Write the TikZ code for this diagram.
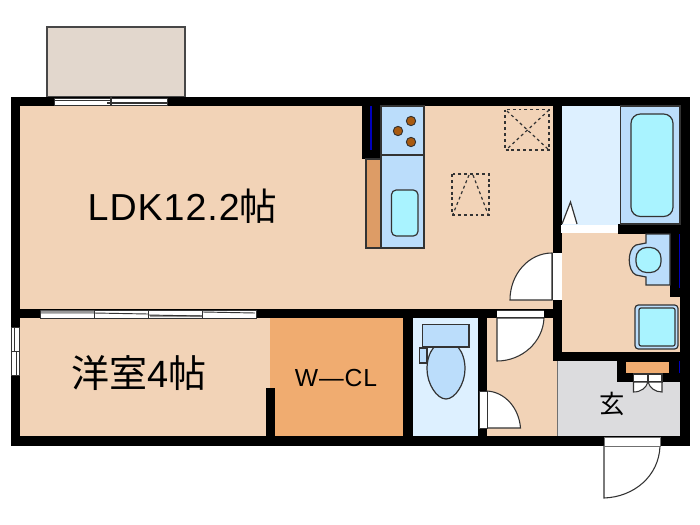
\documentclass[tikz,border=0pt]{standalone}
\usepackage{fontspec}
\setmainfont{Noto Sans CJK JP}
\newfontfamily\latinf[LetterSpace=2.5]{Liberation Sans}
\newfontfamily\latinw[LetterSpace=4]{Liberation Sans}
\definecolor{floorc}{HTML}{F2D3B7}
\definecolor{clos}{HTML}{F0AC70}
\definecolor{balc}{HTML}{E2D7CD}
\definecolor{lblue}{HTML}{DDF0FF}
\definecolor{mblue}{HTML}{BBDDFB}
\definecolor{cyanb}{HTML}{A9F3FF}
\definecolor{grayf}{HTML}{DCDCDE}
\definecolor{panel}{HTML}{DD9C66}
\definecolor{burner}{HTML}{A85A10}
\definecolor{linec}{HTML}{333333}
\tikzset{
 wallbox/.style={fill=black,draw=none},
 fixture/.style={draw=linec,line width=0.9pt},
 openbox/.style={fill=white,draw=linec,line width=0.5pt},
 doorleaf/.style={fill=white,draw=linec,line width=0.8pt},
 dashbox/.style={draw=linec,line width=0.9pt,dash pattern=on 2.2pt off 2.2pt},
 bluel/.style={draw={rgb,255:red,0;green,0;blue,190},line width=0.8pt},
 txt/.style={inner sep=0pt,text=black}
}
\begin{document}
\begin{tikzpicture}[x=0.75pt,y=-0.75pt]
\useasboundingbox (0,0) rectangle (700,525);
\fill[white] (0,0) rectangle (700,525);
% balcony
\draw[fill=balc,draw=linec!90!white,line width=1pt] (47,27) rectangle (185,97);
% floor
\fill[floorc] (15,100) rectangle (560,440);
\fill[floorc] (560,230) rectangle (685,356);
\fill[lblue] (561,106) rectangle (621,225);
\fill[clos] (270,317) rectangle (405,438);
\fill[lblue] (412,317) rectangle (479,438);
\fill[grayf] (557,360) rectangle (682,437);
\draw[linec!70!white,line width=0.5pt] (557,361) -- (557,436);
% walls
\fill[wallbox] (10.5,96.5) rectangle (689.5,106);
\fill[wallbox] (10.5,96.5) rectangle (20,446);
\fill[wallbox] (10.5,436) rectangle (689.5,446);
\fill[wallbox] (680,96.5) rectangle (689.5,446);
\fill[wallbox] (20,309) rectangle (553,318);
\fill[wallbox] (266,388) rectangle (275,436);
\fill[wallbox] (403,318) rectangle (413,436);
\fill[wallbox] (478,318) rectangle (487,436);
\fill[wallbox] (553,106) rectangle (562,361);
\fill[wallbox] (553,352) rectangle (680,361);
\fill[wallbox] (618,224) rectangle (680,233.5);
\fill[wallbox] (670,233) rectangle (680,297);
\fill[wallbox] (617,361) rectangle (680,382);
\fill[wallbox] (362,106) rectangle (381,159);
% windows
\draw[openbox] (54,98) rectangle (167,105);
\draw[linec,line width=1pt] (54,100.5) -- (111,100.5) (107,103) -- (167,103);
\draw[linec,line width=0.8pt] (111,97) -- (111,105);
\draw[openbox] (40,310) rectangle (256,318);
\fill[gray!80] (41,310.5) rectangle (94,313.5) (150,315) rectangle (202,317);
\draw[linec,line width=0.7pt] (94,313) -- (148,314) (148,315) -- (202,316) (203,312) -- (255,313);
\draw[linec,line width=0.7pt] (94,309.5) -- (94,318) (148,309.5) -- (148,318) (202,309.5) -- (202,318);
\draw[openbox] (11,327.5) rectangle (19,375);
\draw[linec,line width=0.6pt] (14.5,327.5) -- (14.5,351) (16.5,351) -- (16.5,375) (11,351) -- (19,351);
% kitchen
\draw[fixture,fill=mblue] (381,106) rectangle (424,155);
\draw[fixture,fill=mblue] (381,155) rectangle (424,248);
\draw[fixture,fill=panel] (366,159) rectangle (381,248);
\draw[fixture,rounded corners=3.5pt,fill=cyanb] (391.5,190) rectangle (418,236);
\draw[linec,fill=burner,line width=0.7pt] (411,121) circle[radius=3.5pt] (398,131) circle[radius=3.5pt] (411,142) circle[radius=3.5pt];
\draw[bluel] (371,106) -- (371,150);
% dashed squares
\draw[dashbox] (505,109.5) rectangle (549,150);
\draw[dashbox] (507,111) -- (549,150) (549,110) -- (507,149);
\draw[dashbox] (452,174) rectangle (489,215);
\draw[dashbox] (469,175) -- (453,214) (473,175) -- (488,214);
% bath
\draw[fixture,fill=mblue] (620.5,106) rectangle (680,224);
\draw[fixture,fill=cyanb,rounded corners=7pt] (631,114) rectangle (673,216.5);
\draw[fixture,fill=white] (562,224) -- (570.5,202) -- (577,224);
\fill[white] (561,225) rectangle (618,233);
% LDK door
\draw[doorleaf] (552,300) -- (510,300) arc[start angle=180,end angle=90,x radius=42,y radius=-47] -- cycle;
\fill[white] (553,253) rectangle (561.5,300);
\draw[linec,line width=0.7pt] (552.7,253) -- (552.7,300);
% wash toilet
\draw[fixture,fill=mblue] (646,234) -- (670,234) -- (670,285) -- (646,285) -- (646,277) -- (636,275) .. controls (627,271) and (627,249) .. (636,245) -- (646,243) -- cycle;
\draw[fixture,fill=cyanb,rounded corners=8pt] (636,247.5) rectangle (661,272.5);
\draw[bluel] (679.5,234) -- (679.5,288);
% washer
\draw[linec,line width=0.9pt,fill=mblue,rounded corners=2.5pt] (635,305) rectangle (678,349);
\draw[linec,line width=0.9pt,fill=cyanb,rounded corners=1.5pt] (639,308) rectangle (675,346);
% closet
\fill[clos] (626,361.5) rectangle (669,373);
\draw[bluel] (679.5,361) -- (679.5,373);
\draw[doorleaf] (633.5,374) rectangle (648,382);
\draw[doorleaf] (648,374) rectangle (662,382);
\draw[doorleaf] (633.5,382) -- (633.5,392) .. controls (641,392) and (646,388) .. (648,382) -- cycle;
\draw[doorleaf] (662,382) -- (662,392) .. controls (655,392) and (650,388) .. (648,382) -- cycle;
% toilet room
\draw[fixture,fill=mblue] (419.5,348) rectangle (427,363);
\draw[fixture,fill=mblue] (434,347) .. controls (429,353) and (427,361) .. (427,369) .. controls (427,384) and (437,399) .. (446,399) .. controls (455,399) and (465,384) .. (465,369) .. controls (465,361) and (463,353) .. (458,347) -- cycle;
\draw[fixture,fill=mblue] (422.5,324.5) rectangle (469,347);
% doors
\draw[doorleaf] (497,318) -- (497,361) .. controls (522,361) and (543,342) .. (544,318) -- cycle;
\fill[white] (497,310) rectangle (544,317);
\draw[linec,line width=0.5pt] (497,310) -- (544,310) (497,317.5) -- (544,317.5);
\draw[doorleaf] (487,428) -- (520.5,428) .. controls (519,408) and (505,392) .. (487,391) -- cycle;
\draw[openbox] (479.5,391) rectangle (487,428);
\draw[doorleaf] (604,446) -- (604,498) .. controls (634,497) and (659,476) .. (660,446) -- cycle;
\draw[openbox,draw=linec!70!white] (604,437) rectangle (660,446);
% text
\node[txt,font=\fontsize{28.2pt}{28.2pt}\selectfont] (ldk) at (182.5,206) {{\latinf LDK12.2}帖};
\node[txt,font=\fontsize{28.5pt}{28.5pt}\selectfont] (yo) at (139,373) {洋室{\latinf 4}帖};
\node[txt,font=\fontsize{18.5pt}{18.5pt}\selectfont] (wcl) at (336,378) {{\latinw W—CL}};
\node[txt,font=\fontsize{19pt}{19pt}\selectfont] (gen) at (612,404) {玄};
\end{tikzpicture}
\end{document}
